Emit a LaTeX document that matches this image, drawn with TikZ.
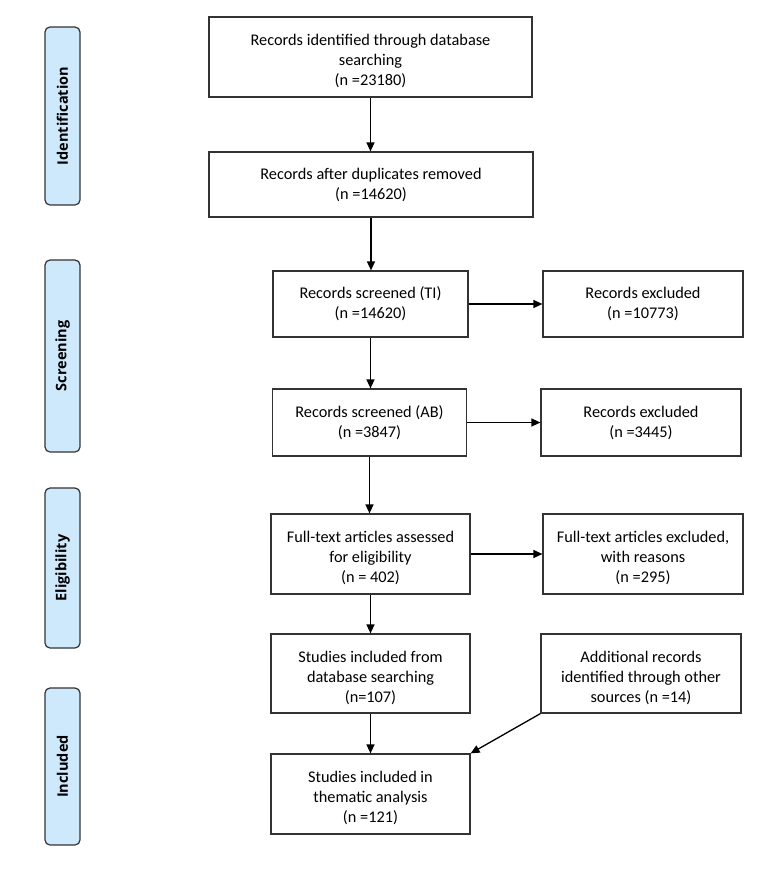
\documentclass[tikz,border=0pt]{standalone}
\usepackage{fontspec}
\setmainfont{Carlito}
\newfontfamily\sidefont{Open Sans}
\usetikzlibrary{arrows.meta}
\definecolor{barfill}{HTML}{CDE9FB}
\definecolor{edge}{HTML}{333333}
\newcommand\toppad{\rule{0pt}{19.5pt}}
\begin{document}
\begin{tikzpicture}[x=1pt,y=-1pt,
  box/.style={draw=edge,line width=1.2pt,align=center,inner sep=2pt,
    font=\fontsize{16.3}{20}\selectfont},
  bar/.style={draw=edge,fill=barfill,line width=1.2pt,rounded corners=5pt},
  bartext/.style={rotate=90,font=\sidefont\bfseries\fontsize{14.5}{16}\selectfont},
  arr/.style={draw=black,line width=1.3pt,-{Triangle[length=9pt,width=8pt]}}]
\useasboundingbox (0,0) rectangle (770,871);
% side bars
\draw[bar] (45,27) rectangle (80,205) node[midway,bartext] (tid) {Identification};
\draw[bar] (45,260) rectangle (80,452) node[midway,bartext] (tsc) {Screening};
\draw[bar] (45,488) rectangle (80,648) node[midway,bartext] (tel) {Eligibility};
\draw[bar] (45,688) rectangle (80,845) node[midway,bartext] (tin) {Included};
% boxes
\node[box,minimum width=323pt,minimum height=80pt] (b1) at (370.5,57)
  {\toppad Records identified through database\\searching\\(n =23180)};
\node[box,minimum width=324pt,minimum height=65pt] (b2) at (371,184.5)
  {Records after duplicates removed\\(n =14620)};
\node[box,minimum width=195pt,minimum height=66pt] (b3) at (370.5,304)
  {Records screened (TI)\\(n =14620)};
\node[box,minimum width=200pt,minimum height=66pt] (e1) at (643,304)
  {Records excluded\\(n =10773)};
\node[box,minimum width=194pt,minimum height=67pt] (b4) at (369.5,422.5)
  {Records screened (AB)\\(n =3847)};
\node[box,minimum width=200pt,minimum height=67pt] (e2) at (641,422.5)
  {Records excluded\\(n =3445)};
\node[box,minimum width=199pt,minimum height=80pt] (b5) at (370.5,554)
  {\toppad Full-text articles assessed\\for eligibility\\(n = 402)};
\node[box,minimum width=200pt,minimum height=80pt] (e3) at (643,554)
  {\toppad Full-text articles excluded,\\with reasons\\(n =295)};
\node[box,minimum width=199pt,minimum height=79pt] (b6) at (370.5,673.5)
  {\toppad Studies included from\\database searching\\(n=107)};
\node[box,minimum width=200pt,minimum height=79pt] (b7) at (641,673.5)
  {\toppad Additional records\\identified through other\\sources (n =14)};
\node[box,minimum width=199pt,minimum height=80pt] (b8) at (370.5,794)
  {\toppad Studies included in\\thematic analysis\\(n =121)};
% connectors
\draw[arr] (b1.south) -- (b1.south |- b2.north);
\draw[arr] (b2.south) -- (b2.south |- b3.north);
\draw[arr] (b3.south) -- (b3.south |- b4.north);
\draw[arr] (b4.south) -- (b4.south |- b5.north);
\draw[arr] (b5.south) -- (b5.south |- b6.north);
\draw[arr] (b6.south) -- (b6.south |- b8.north);
\draw[arr] (b3.east) -- (e1.west);
\draw[arr] (b4.east) -- (e2.west);
\draw[arr] (b5.east) -- (e3.west);
\draw[arr] (b7.south west) -- (b8.north east);
\end{tikzpicture}
\end{document}
